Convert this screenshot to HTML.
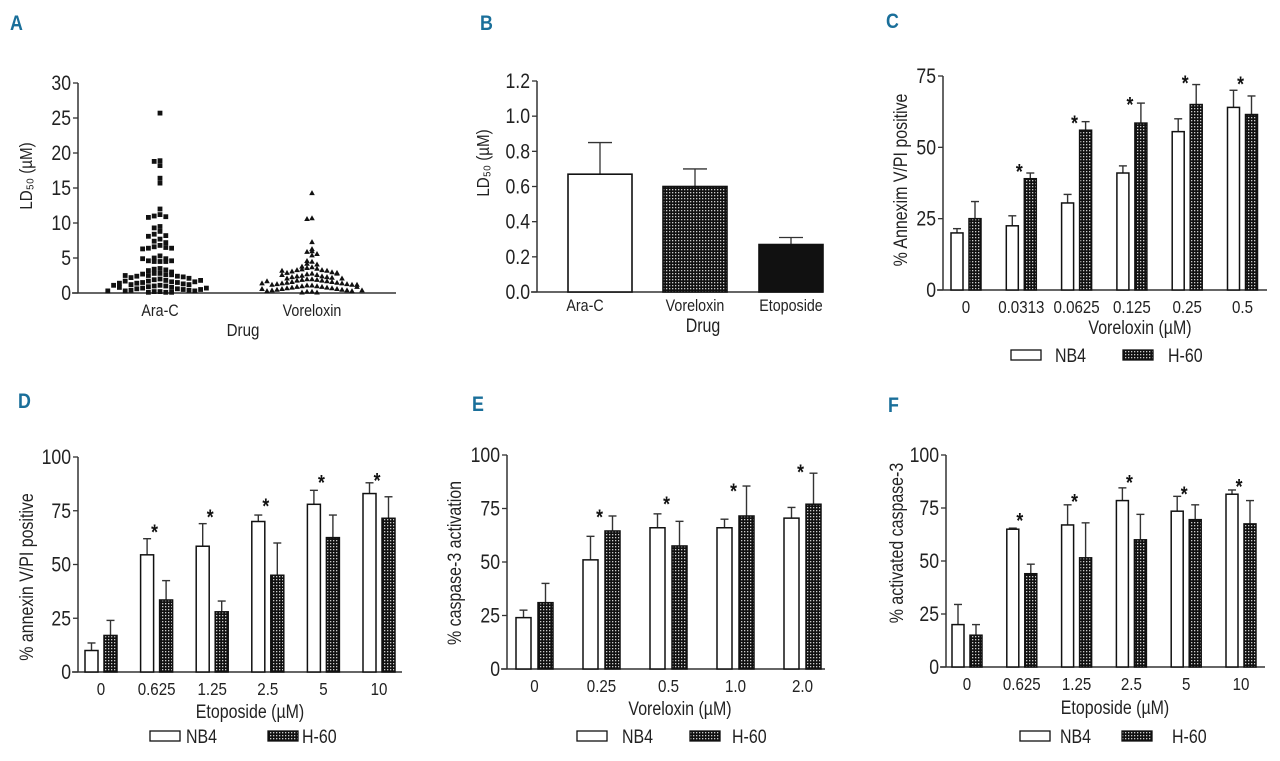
<!DOCTYPE html>
<html><head><meta charset="utf-8">
<style>
body{margin:0;background:#fff;}
svg{display:block;font-family:"Liberation Sans Narrow","Liberation Sans",sans-serif;}
.t{fill:#222;}
</style></head>
<body>
<svg id="fig" width="1280" height="761" viewBox="0 0 1280 761" xmlns="http://www.w3.org/2000/svg">
<defs>
<pattern id="chk" width="3" height="3" patternUnits="userSpaceOnUse">
<rect width="3" height="3" fill="#111"/><rect width="1.3" height="1.3" fill="#ccc"/>
</pattern>
</defs>
<g font-family="Liberation Sans" font-weight="bold" fill="#1a6f9a" font-size="21">
<text transform="translate(10 30) scale(0.85 1)">A</text>
<text transform="translate(480 30) scale(0.85 1)">B</text>
<text transform="translate(886 28) scale(0.85 1)">C</text>
<text transform="translate(18 408) scale(0.85 1)">D</text>
<text transform="translate(472 411) scale(0.85 1)">E</text>
<text transform="translate(888 412) scale(0.85 1)">F</text>
</g>
</svg>
<script>
// ---- Panel A data ----
const aCategories = ["Ara-C","Voreloxin"];
const aAraC = [25.7,18.9,18.8,18.2,16.4,15.7,12,11.2,11,10.9,10.8,9.5,9.3,8.8,8.4,8.2,8.1,7.7,7.4,7.2,6.8,6.6,6.5,6.4,6.4,6.3,5.3,5.0,4.9,4.6,4.5,4.5,4.5,4.6,4.9,3.5,3.4,3.3,3.2,3.0,2.8,2.8,2.6,2.5,2.6,2.7,2.4,2.4,2.3,2.2,2.1,2.0,1.9,1.8,1.7,1.6,1.5,1.5,1.4,1.3,1.2,1.2,1.1,1.0,1.0,0.9,0.8,0.7,0.6,0.6,0.5,0.4,0.4,0.3,0.3,0.2,0.2,0.1,0.1,0.1,1.7,1.6,1.4,0.8,0.5,2.5,1.8,1.1,0.7,0.3];
const aVorel = [14.3,10.7,10.6,7.3,6.3,6.0,5.9,5.6,5.4,4.6,4.5,4.2,4.1,3.8,3.7,3.6,3.5,3.4,3.3,3.3,3.2,3.1,3.0,2.9,2.9,2.8,2.7,2.6,2.5,2.4,2.4,2.3,2.3,2.2,2.1,2.0,2.0,1.9,1.9,1.8,1.8,1.7,1.6,1.6,1.5,1.5,1.4,1.4,1.3,1.3,1.2,1.2,1.1,1.1,1.0,1.0,0.9,0.9,0.8,0.8,0.7,0.7,0.6,0.6,0.5,0.5,0.4,0.4,0.3,0.3,0.2,0.2,0.1,0.1,3.2,2.8,2.6,1.7,1.2,0.9,0.6,0.4,2.1,1.4];
const aTicks = [0,5,10,15,20,25,30];
// ---- Panel B data ----
const bCategories = ["Ara-C","Voreloxin","Etoposide"];
const bValues = [0.67,0.60,0.27];
const bErrTop = [0.85,0.70,0.31];
const bTicks = ["0.0","0.2","0.4","0.6","0.8","1.0","1.2"];
// ---- Panel C data ----
const cCategories = ["0","0.0313","0.0625","0.125","0.25","0.5"];
const cNB4 = [20,22.5,30.5,41,55.5,64];
const cNB4Err = [21.5,26,33.5,43.5,60,70];
const cH60 = [25,39,56,58.5,65,61.5];
const cH60Err = [31,41,59,65.5,72,68];
const cStars = [null,43,60,66.5,74,73.6];
const cTicks = [0,25,50,75];
// ---- Panel D data ----
const dCategories = ["0","0.625","1.25","2.5","5","10"];
const dNB4 = [10,54.5,58.5,70,78,83];
const dNB4Err = [13.5,62,69,73,84.5,88];
const dH60 = [17,33.5,28,45,62.5,71.5];
const dH60Err = [24,42.5,33,60,73,81.5];
const dStars = [null,67,74,79,90,91];
const dTicks = [0,25,50,75,100];
// ---- Panel E data ----
const eCategories = ["0","0.25","0.5","1.0","2.0"];
const eNB4 = [24,51,66,66,70.5];
const eNB4Err = [27.5,62,72.5,70,75.5];
const eH60 = [31,64.5,57.5,71.5,77];
const eH60Err = [40,71.5,69,85.5,91.5];
const eStars = [null,73,79,85,94];
const eTicks = [0,25,50,75,100];
// ---- Panel F data ----
const fCategories = ["0","0.625","1.25","2.5","5","10"];
const fNB4 = [20,65,67,78.5,73.5,81.5];
const fNB4Err = [29.5,65.5,76.5,84.5,80.5,83.5];
const fH60 = [15,44,51.5,60,69.5,67.5];
const fH60Err = [20,48.5,68,72,76.5,78.5];
const fStars = [null,71,80,89,83.5,87];
const fTicks = [0,25,50,75,100];

const NS="http://www.w3.org/2000/svg";
const svg=document.getElementById('fig');
const SX=0.84;
function mk(tag,attrs,parent){const e=document.createElementNS(NS,tag);for(const k in attrs)e.setAttribute(k,attrs[k]);(parent||svg).appendChild(e);return e;}
function txt(s,attrs,parent,rot){
  const x=attrs.x,y=attrs.y;delete attrs.x;delete attrs.y;
  attrs.transform=rot?`translate(${x} ${y}) rotate(-90) scale(${SX} 1)`:`translate(${x} ${y}) scale(${SX} 1)`;
  const e=mk('text',attrs,parent);e.textContent=s;return e;}
const AX="#333";

function axes(g,ax,y0,yTopPx,xEnd,ticks,maxV,tickFs){
  const ys=v=>y0-(v/maxV)*(y0-yTopPx);
  const yl=mk('line',{x1:ax,y1:y0,x2:ax,y2:yTopPx,stroke:AX,'stroke-width':1.5},g);
  
  
  const xl=mk('line',{x1:ax-6,y1:y0,x2:xEnd,y2:y0,stroke:AX,'stroke-width':1.5},g);
  
  
  ticks.forEach(t=>{
    const v=parseFloat(t);
    const tk=mk('line',{x1:ax-5,y1:ys(v),x2:ax,y2:ys(v),stroke:AX,'stroke-width':1.3},g);
    
    
    const tl=txt(String(t),{x:ax-7,y:ys(v)+7,'text-anchor':'end','font-size':tickFs,class:'t'},g);
    
    
  });
  return ys;
}
function ylabel(g,s,x,y,fs){
  const t=txt(s,{x:x,y:y,'text-anchor':'middle','font-size':fs,class:'t'},g,true);
  
  
}
function xlabel(g,s,x,y,fs){
  const t=txt(s,{x:x,y:y,'text-anchor':'middle','font-size':fs,class:'t'},g);
  
  
}

// ---------- Panel A ----------
(function(){
  const g=mk('g',{});
  
  
  const ys=axes(g,78,293,83,396,aTicks,30,21);
  const centers=[160,312];
  [aAraC,aVorel].forEach((arr,ci)=>{
    const bins={};
    arr.forEach(v=>{
      const py=ys(v);const b=Math.round(py/6);
      bins[b]=(bins[b]||0)+1;const k=bins[b]-1;
      const off=(k%2===0?1:-1)*Math.ceil(k/2)*(ci===0?5.8:5.0);
      const cx=centers[ci]+off;
      if(ci===0){
        const r=mk('rect',{x:cx-2.4,y:py-2.4,width:4.8,height:4.8,fill:'#111'},g);
        
        
      }else{
        const p=mk('polygon',{points:`${cx},${py-2.8} ${cx-2.8},${py+2.2} ${cx+2.8},${py+2.2}`,fill:'#111'},g);
        
        
      }
    });
    const cl=txt(aCategories[ci],{x:centers[ci],y:316,'text-anchor':'middle','font-size':17,class:'t'},g);
    
    
  });
  xlabel(g,'Drug',243,336,18);
  ylabel(g,'LD\u2085\u2080 (\u00b5M)',32,176,18);
})();

// ---------- Panel B ----------
(function(){
  const g=mk('g',{});
  
  
  const ys=axes(g,537,292,81,823,bTicks,1.2,21);
  const lefts=[568,663,759],bw=64;
  const fills=['#fff','url(#chk)','#111'];
  bValues.forEach((v,i)=>{
    const cx=lefts[i]+bw/2;
    const e=mk('line',{x1:cx,y1:ys(v),x2:cx,y2:ys(bErrTop[i]),stroke:AX,'stroke-width':1.3},g);
    
    
    const c=mk('line',{x1:cx-12,y1:ys(bErrTop[i]),x2:cx+12,y2:ys(bErrTop[i]),stroke:AX,'stroke-width':1.3},g);
    
    
    const r=mk('rect',{x:lefts[i],y:ys(v),width:bw,height:292-ys(v),fill:fills[i],stroke:'#111','stroke-width':1.6},g);
    
    
    const l=txt(bCategories[i],{x:cx-(i===0?15:0),y:311,'text-anchor':'middle','font-size':17,class:'t'},g);
    
    
  });
  xlabel(g,'Drug',703,332,19);
  ylabel(g,'LD\u2085\u2080 (\u00b5M)',489,163,18);
})();

// ---------- grouped bar panels ----------
function grouped(cfg){
  const g=mk('g',{});
  
  
  const ys=axes(g,cfg.ax,cfg.y0,cfg.yTop,cfg.xEnd,cfg.ticks,cfg.max,21);
  cfg.cats.forEach((c,i)=>{
    const l1=cfg.left+i*cfg.sp, l2=l1+cfg.bw+cfg.gap;
    [[l1,cfg.nb4[i],cfg.nb4e[i],'#fff','bar-nb4'],[l2,cfg.h60[i],cfg.h60e[i],'url(#chk)','bar-h60']].forEach(b=>{
      const cx=b[0]+cfg.bw/2;
      const e=mk('line',{x1:cx,y1:ys(b[1]),x2:cx,y2:ys(b[2]),stroke:AX,'stroke-width':1.4},g);
      
      
      const cp=mk('line',{x1:cx-4,y1:ys(b[2]),x2:cx+4,y2:ys(b[2]),stroke:AX,'stroke-width':1.4},g);
      
      
      const r=mk('rect',{x:b[0],y:ys(b[1]),width:cfg.bw,height:cfg.y0-ys(b[1]),fill:b[3],stroke:'#111','stroke-width':1.5},g);
      
      
    });
    const cx=l1+cfg.bw+cfg.gap/2;
    const t=txt(c,{x:cx,y:cfg.tickY,'text-anchor':'middle','font-size':18,class:'t'},g);
    
    
    if(cfg.stars[i]!=null){
      const s=txt('*',{x:cx-2,y:ys(cfg.stars[i])+11,'text-anchor':'middle','font-size':21,'font-weight':'bold',fill:'#111'},g);
      
      
    }
  });
  xlabel(g,cfg.xl,cfg.xlX,cfg.xlY,19);
  ylabel(g,cfg.yl,cfg.ylX,cfg.ylY,19);
  const L=cfg.leg;
  const b1=mk('rect',{x:L[0],y:L[4],width:30,height:10,fill:'#fff',stroke:'#111','stroke-width':1.3},g);
  
  
  const t1=txt('NB4',{x:L[1],y:L[4]+12,'font-size':19,class:'t'},g);
  
  
  const b2=mk('rect',{x:L[2],y:L[4],width:30,height:10,fill:'url(#chk)',stroke:'#111','stroke-width':1.3},g);
  
  
  const t2=txt('H-60',{x:L[3],y:L[4]+12,'font-size':19,class:'t'},g);
  
  
}
grouped({name:'panel-c-bar-chart',ax:943,y0:290,yTop:76,xEnd:1267,max:75,ticks:cTicks,cats:cCategories,nb4:cNB4,nb4e:cNB4Err,h60:cH60,h60e:cH60Err,stars:cStars,
  left:951,sp:55.3,bw:12,gap:6,tickY:313,xl:'Voreloxin (\u00b5M)',xlX:1140,xlY:334,yl:'% Annexim V/PI positive',ylX:907,ylY:180,leg:[1011,1055,1123,1168,350]});
grouped({name:'panel-d-bar-chart',ax:78,y0:672,yTop:457,xEnd:402,max:100,ticks:dTicks,cats:dCategories,nb4:dNB4,nb4e:dNB4Err,h60:dH60,h60e:dH60Err,stars:dStars,
  left:85,sp:55.6,bw:13,gap:6,tickY:695,xl:'Etoposide (\u00b5M)',xlX:250,xlY:718,yl:'% annexin V/PI positive',ylX:33,ylY:577,leg:[150,186,268,302,731]});
grouped({name:'panel-e-bar-chart',ax:507,y0:669,yTop:455,xEnd:825,max:100,ticks:eTicks,cats:eCategories,nb4:eNB4,nb4e:eNB4Err,h60:eH60,h60e:eH60Err,stars:eStars,
  left:516,sp:67,bw:15,gap:7,tickY:692,xl:'Voreloxin (\u00b5M)',xlX:680,xlY:715,yl:'% caspase-3 activation',ylX:461,ylY:563,leg:[577,622,690,732,731]});
grouped({name:'panel-f-bar-chart',ax:946,y0:667,yTop:455,xEnd:1265,max:100,ticks:fTicks,cats:fCategories,nb4:fNB4,nb4e:fNB4Err,h60:fH60,h60e:fH60Err,stars:fStars,
  left:952,sp:54.8,bw:12,gap:6,tickY:690,xl:'Etoposide (\u00b5M)',xlX:1115,xlY:714,yl:'% activated caspase-3',ylX:903,ylY:543,leg:[1020,1060,1122,1172,731]});
</script>
</body></html>
